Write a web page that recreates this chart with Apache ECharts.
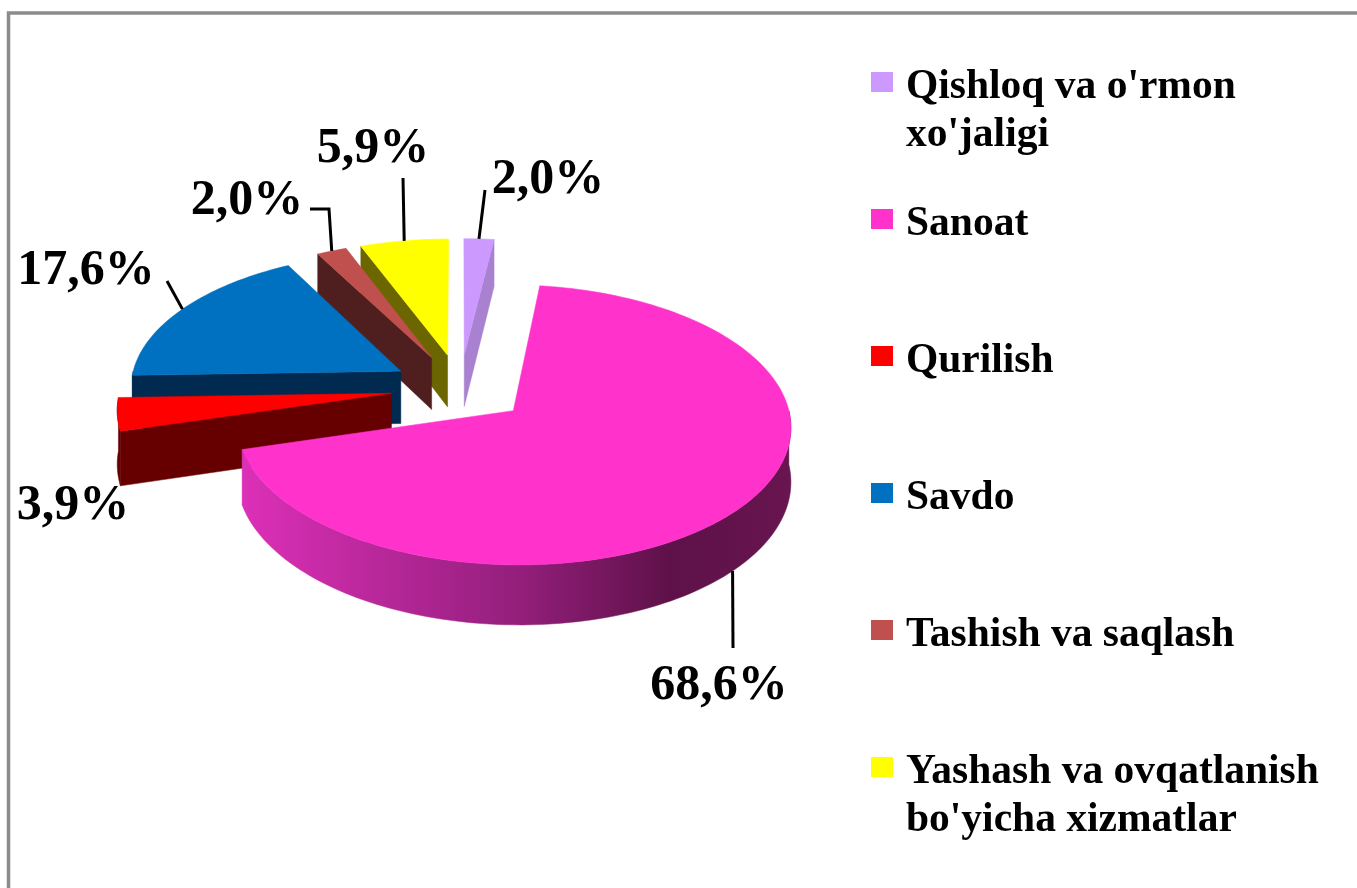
<!DOCTYPE html>
<html>
<head>
<meta charset="utf-8">
<style>
html, body { margin: 0; padding: 0; background: #fff; }
#chart { width: 1357px; height: 888px; }
</style>
<script src="https://cdn.jsdelivr.net/npm/echarts@6/dist/echarts.min.js"></script>
</head>
<body>
<div id="chart"></div>
<script>
// data
var categories = ["Qishloq va o'rmon\nxo'jaligi", 'Sanoat', 'Qurilish', 'Savdo', 'Tashish va saqlash', "Yashash va ovqatlanish\nbo'yicha xizmatlar"];
var shares = [2.0, 68.6, 3.9, 17.6, 2.0, 5.9];
var shareLabels = ['2,0%', '68,6%', '3,9%', '17,6%', '2,0%', '5,9%'];

// colours
var topColors = ['#cc99ff', '#ff33cc', '#ff0000', '#0070c0', '#c0504d', '#ffff00'];
var wallColors = ['#a882d0', '#d42fb0', '#660000', '#002a50', '#4f1f1f', '#6b6600'];
// back to front
var drawOrder = [0, 5, 4, 3, 2, 1];

// pie geometry (flat disc tilted towards the viewer)
var pie = { cx: 460, cy: 388, rx: 271, ry: 134, persp: 0.1, explode: 0.255, depth: 53, startAngle: 0 };

// where the labels sit and where their leader lines end; null = no leader
var labelPos = [[548, 180], [719, 686], [73, 506], [86, 271], [247, 201], [373, 149]];
var leaderEnds = [[[485, 190]], [[733, 648]], null, [[167, 281]], [[329, 209], [310, 209]], [[403, 178]]];
// angle inside the slice the leader starts from (0..1)
var leaderAt = [0.5, 0.511, 0.5, 0.5, 0.5, 0.5];

var total = shares.reduce(function (a, b) { return a + b; }, 0);

function sliceAngles(idx) {
  var a = pie.startAngle;
  for (var i = 0; i < idx; i++) a += shares[i] / total * 360;
  return [a, a + shares[idx] / total * 360];
}

// project a point of the disc to the screen, angles clockwise from north
function project(idx, deg, r, drop) {
  var ang = sliceAngles(idx);
  var mid = (ang[0] + ang[1]) / 2 * Math.PI / 180;
  var rad = deg * Math.PI / 180;
  var u = pie.explode * Math.sin(mid) + r * Math.sin(rad);
  var v = pie.explode * Math.cos(mid) + r * Math.cos(rad);
  var s = 1 / (1 + pie.persp * v);
  return [pie.cx + pie.rx * u * s, pie.cy - pie.ry * v * s + (drop ? pie.depth * s : 0)];
}

function arcPoints(idx, from, to, drop) {
  var pts = [];
  var steps = Math.max(2, Math.ceil(Math.abs(to - from) / 1.5));
  for (var i = 0; i <= steps; i++) {
    pts.push(project(idx, from + (to - from) * i / steps, 1, drop));
  }
  return pts;
}

function polygon(points, fill) {
  return { type: 'polygon', shape: { points: points }, style: { fill: fill, stroke: fill, lineWidth: 0.5 } };
}

function cutFace(idx, deg, fill) {
  return polygon([project(idx, deg, 0, false), project(idx, deg, 1, false), project(idx, deg, 1, true), project(idx, deg, 0, true)], fill);
}

function wallFill(idx) {
  if (idx !== 1) return wallColors[idx];
  return new echarts.graphic.LinearGradient(0, 0, 1, 0, [
    { offset: 0, color: '#dc30b8' },
    { offset: 0.5, color: '#941f7c' },
    { offset: 0.78, color: '#5e1148' },
    { offset: 1, color: '#681550' }
  ]);
}

function renderSlice(idx) {
  var ang = sliceAngles(idx);
  var kids = [];
  var fill = wallFill(idx);
  var rad0 = ang[0] * Math.PI / 180;
  var rad1 = ang[1] * Math.PI / 180;

  // cut faces turned to the viewer
  if (Math.sin(rad0) < 0) kids.push(cutFace(idx, ang[0], wallColors[idx]));
  if (Math.sin(rad1) > 0 && idx !== 1) kids.push(cutFace(idx, ang[1], wallColors[idx]));

  // rim, only the part facing front
  var from = Math.max(ang[0], 90);
  var to = Math.min(ang[1], 270);
  if (to > from) {
    kids.push(polygon(arcPoints(idx, from, to, false).concat(arcPoints(idx, to, from, true)), fill));
  }

  // top face
  kids.push(polygon([project(idx, ang[0], 0, false)].concat(arcPoints(idx, ang[0], ang[1], false)), topColors[idx]));

  // leader and label
  if (leaderEnds[idx]) {
    var at = ang[0] + (ang[1] - ang[0]) * leaderAt[idx];
    var start = project(idx, at, 1, idx === 1);
    kids.push({
      type: 'polyline',
      shape: { points: [start].concat(leaderEnds[idx]) },
      style: { stroke: '#000', lineWidth: 3, fill: null }
    });
  }
  kids.push({
    type: 'text',
    style: {
      x: labelPos[idx][0], y: labelPos[idx][1], text: shareLabels[idx],
      font: 'bold 50px "Liberation Serif"', fill: '#000', align: 'center', verticalAlign: 'middle'
    }
  });
  return { type: 'group', children: kids };
}

var series = drawOrder.map(function (idx, rank) {
  return {
    type: 'custom',
    name: categories[idx],
    coordinateSystem: 'none',
    z: 2 + rank,
    itemStyle: { color: topColors[idx] },
    data: [shares[idx]],
    silent: true,
    renderItem: function () { return renderSlice(idx); }
  };
});

var legendFont = { fontFamily: 'Liberation Serif', fontWeight: 'bold', fontSize: 41.5, lineHeight: 48, color: '#000' };

var chart = echarts.init(document.getElementById('chart'), null, { renderer: 'canvas' });
chart.setOption({
  backgroundColor: '#ffffff',
  animation: false,
  // every entry is three lines high so the marker stays on the first text line
  legend: {
    orient: 'vertical',
    left: 871,
    top: 13,
    padding: 0,
    itemGap: -6,
    itemWidth: 22,
    itemHeight: 20,
    itemStyle: { borderWidth: 0 },
    icon: 'rect',
    selectedMode: false,
    data: categories.map(function (c, i) { return { name: c, itemStyle: { color: topColors[i] } }; }),
    formatter: function (name) {
      var lines = name.split('\n');
      return '{gap|\u00a0}\n{t|' + lines[0] + '}\n{t|' + (lines[1] || '\u00a0') + '}';
    },
    textStyle: {
      fontFamily: 'Liberation Serif', fontWeight: 'bold', fontSize: 41.5, color: '#000', padding: [0, 0, 0, 8],
      rich: {
        t: legendFont,
        gap: { fontSize: 41.5, lineHeight: 58 }
      }
    }
  },
  graphic: [{
    type: 'polyline',
    silent: true,
    shape: { points: [[8.5, 888], [8.5, 13], [1357, 13]] },
    style: { stroke: '#8c8c8c', lineWidth: 3.5, fill: null }
  }],
  series: series
});
</script>
</body>
</html>
